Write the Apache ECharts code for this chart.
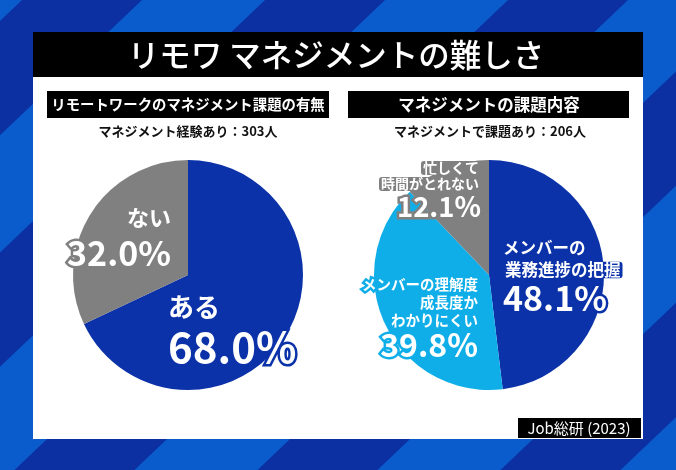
<!DOCTYPE html>
<html><head><meta charset="utf-8">
<script src="https://cdn.jsdelivr.net/npm/echarts@6/dist/echarts.min.js"></script>
<style>html,body{margin:0;padding:0;background:#fff}#c{width:676px;height:470px}</style>
</head><body><div id="c"></div>
<script>
// ---- data ----
const titleText = 'リモワ マネジメントの難しさ';
const leftHeader = 'リモートワークのマネジメント課題の有無';
const rightHeader = 'マネジメントの課題内容';
const leftSub = 'マネジメント経験あり：303人';
const rightSub = 'マネジメントで課題あり：206人';
const sourceText = 'Job総研 (2023)';
const leftCats = ['ある', 'ない'];
const leftVals = [68.0, 32.0];
const rightCats = [['メンバーの', '業務進捗の把握'], ['メンバーの理解度', '成長度か', 'わかりにくい'], ['忙しくて', '時間がとれない']];
const rightVals = [48.1, 39.8, 12.1];

// ---- styles ----
const FONT = '"Noto Sans CJK JP", "Noto Sans", sans-serif';
const C_BLUE = '#0b32a8', C_GRAY = '#808080', C_LIGHT = '#10aee8';
const leftColors = [C_BLUE, C_GRAY];
const rightColors = [C_BLUE, C_LIGHT, C_GRAY];

const chart = echarts.init(document.getElementById('c'), null, {renderer: 'canvas'});

// background stripes
const W = 676, H = 470, K = 1.05, PERIOD = 243, BAND = 120, OFF = 22;
const graphics = [{type: 'rect', shape: {x: 0, y: 0, width: W, height: H}, style: {fill: '#0a5ccc'}, z: 0}];
for (let n = -3; n <= 4; n++) {
  const u0 = OFF + PERIOD * n;
  graphics.push({type: 'polygon', z: 0, shape: {points: [[u0, 0], [u0 + BAND, 0], [u0 + BAND - K * H, H], [u0 - K * H, H]]}, style: {fill: '#0c30a2'}});
}
graphics.push(
  {type: 'rect', z: 1, shape: {x: 33, y: 77, width: 610, height: 362}, style: {fill: '#ffffff'}},
  {type: 'rect', z: 1, shape: {x: 33, y: 32, width: 610, height: 45}, style: {fill: '#000000'}},
  {type: 'text', z: 2, x: 336, y: 55, style: {text: titleText, fill: '#fff', font: '500 31.5px ' + FONT, align: 'center', verticalAlign: 'middle'}},
  {type: 'rect', z: 1, shape: {x: 47, y: 91, width: 282, height: 27}, style: {fill: '#000'}},
  {type: 'rect', z: 1, shape: {x: 348, y: 91, width: 281, height: 27}, style: {fill: '#000'}},
  {type: 'text', z: 2, x: 188, y: 105, style: {text: leftHeader, fill: '#fff', font: 'bold 14.4px ' + FONT, align: 'center', verticalAlign: 'middle'}},
  {type: 'text', z: 2, x: 489, y: 105, style: {text: rightHeader, fill: '#fff', font: 'bold 16.5px ' + FONT, align: 'center', verticalAlign: 'middle'}},
  {type: 'text', z: 2, x: 188, y: 131, style: {text: leftSub, fill: '#111', font: 'bold 13px ' + FONT, align: 'center', verticalAlign: 'middle'}},
  {type: 'text', z: 2, x: 490, y: 131, style: {text: rightSub, fill: '#111', font: 'bold 13px ' + FONT, align: 'center', verticalAlign: 'middle'}},
  {type: 'rect', z: 5, shape: {x: 518, y: 418, width: 123, height: 20}, style: {fill: '#000'}},
  {type: 'text', z: 6, x: 579, y: 428, style: {text: sourceText, fill: '#fff', font: '15px ' + FONT, align: 'center', verticalAlign: 'middle'}}
);

function pct(v) { return v.toFixed(1) + '%'; }
function outline(color, extra) {
  return Object.assign({color: '#fff', fontFamily: FONT, fontWeight: 'bold', textBorderColor: color, textBorderWidth: 5}, extra);
}

// label layouts (label anchor points)
const leftLabelPos = [{x: 168, y: 329, align: 'left'}, {x: 171, y: 237, align: 'right'}];
const rightLabelPos = [{x: 503, y: 276, align: 'left'}, {x: 478, y: 318, align: 'right'}, {x: 481, y: 191, align: 'right'}];

const leftData = leftCats.map((c, i) => {
  const big = i === 0;
  return {
    name: c, value: leftVals[i], itemStyle: {color: leftColors[i]},
    label: {
      formatter: '{a|' + c + '}\n{b|' + pct(leftVals[i]) + '}',
      rich: {
        a: outline(leftColors[i], {fontSize: big ? 26 : 22, lineHeight: big ? 36 : 32, align: big ? 'left' : 'right'}),
        b: outline(leftColors[i], {fontSize: big ? 42 : 34, lineHeight: big ? 44 : 38, align: big ? 'left' : 'right'})
      }
    }
  };
});

const rightRich = [
  {t: {fontSize: 16.5, lineHeight: 22, align: 'left'}, p: {fontSize: 34, lineHeight: 34, align: 'left'}},
  {t: {fontSize: 14.5, lineHeight: 18, align: 'right'}, p: {fontSize: 32, lineHeight: 32, align: 'right'}},
  {t: {fontSize: 14, lineHeight: 16, align: 'right'}, p: {fontSize: 27.5, lineHeight: 30, align: 'right'}}
];
const rightData = rightCats.map((lines, i) => {
  const col = rightColors[i];
  const rich = {
    t: outline(col, rightRich[i].t),
    p: outline(col, rightRich[i].p),
    bg: outline(col, Object.assign({}, rightRich[i].t, {backgroundColor: col, borderRadius: 3, padding: [0, 2], textBorderWidth: 0}))
  };
  const fm = lines.map((l, j) => {
    const useBg = (i === 0 && j === 1) || i === 2;
    return '{' + (useBg ? 'bg' : 't') + '|' + l + '}';
  }).join('\n') + '\n{p|' + pct(rightVals[i]) + '}';
  return {name: lines.join(''), value: rightVals[i], itemStyle: {color: col}, label: {formatter: fm, rich: rich}};
});

function layoutFn(pos) {
  return function (params) {
    const p = pos[params.dataIndex];
    return {x: p.x, y: p.y, align: p.align, verticalAlign: 'middle'};
  };
}

chart.setOption({
  animation: false,
  graphic: {elements: graphics},
  series: [
    {
      type: 'pie', center: [188, 275], radius: 115, startAngle: 90, clockwise: true,
      label: {show: true, position: 'inside'}, labelLine: {show: false},
      emphasis: {disabled: true}, silent: true, z: 3,
      labelLayout: layoutFn(leftLabelPos),
      data: leftData
    },
    {
      type: 'pie', center: [489, 275], radius: 115, startAngle: 90, clockwise: true,
      label: {show: true, position: 'inside'}, labelLine: {show: false},
      emphasis: {disabled: true}, silent: true, z: 3,
      labelLayout: layoutFn(rightLabelPos),
      data: rightData
    }
  ]
});
</script></body></html>
